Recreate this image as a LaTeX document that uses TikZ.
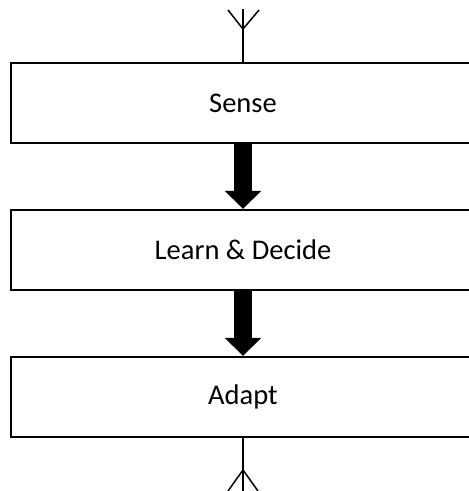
\documentclass[tikz,border=0pt]{standalone}
\usepackage{fontspec}
\setmainfont{Carlito}
\usetikzlibrary{arrows.meta}

\begin{document}
\begin{tikzpicture}[x=1pt, y=1pt,
    font=\fontsize{28.5}{32}\selectfont,
    box/.style={draw, line width=2pt, minimum width=464pt, minimum height=80pt, inner sep=0pt},
    bigarrow/.style={line width=18pt, -{Triangle[width=35pt, length=18pt]}},
    antenna/.style={line width=1.5pt}]
  \useasboundingbox (0,0) rectangle (469,491);
  % Stages
  \node[box] (sense) at (243,388) {Sense};
  \node[box] (learn) at (243,241) {Learn \& Decide};
  \node[box] (adapt) at (243,94)  {Adapt};
  % Block arrows
  \draw[bigarrow] (sense.south) -- (learn.north);
  \draw[bigarrow] (learn.south) -- (adapt.north);
  % Antenna on top
  \coordinate (topEnd) at (243,482);
  \coordinate (topFork) at (243,462);
  \draw[antenna] (sense.north) -- (topEnd);
  \draw[antenna] (topFork) -- (228,481);
  \draw[antenna] (topFork) -- (259,481);
  % Antenna at the bottom
  \coordinate (botEnd) at (243,-5);
  \coordinate (botFork) at (243,21);
  \draw[antenna] (adapt.south) -- (botEnd);
  \draw[antenna] (botFork) -- (228,0);
  \draw[antenna] (botFork) -- (258,0);
\end{tikzpicture}
\end{document}
